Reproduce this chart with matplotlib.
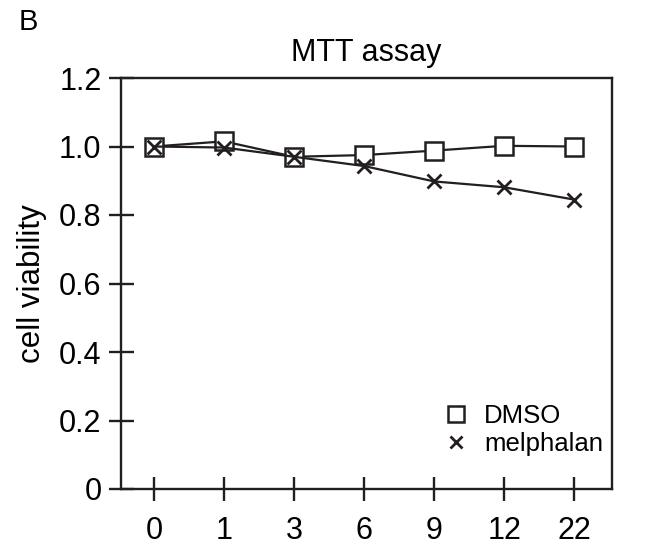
import matplotlib
matplotlib.use("Agg")
import matplotlib.pyplot as plt

categories = ["0", "1", "3", "6", "9", "12", "22"]
dmso = [1.0, 1.015, 0.97, 0.975, 0.988, 1.002, 1.0]
melphalan = [1.0, 0.997, 0.97, 0.943, 0.898, 0.881, 0.845]
yticks = [0, 0.2, 0.4, 0.6, 0.8, 1.0, 1.2]
ytick_labels = ["0", "0.2", "0.4", "0.6", "0.8", "1.0", "1.2"]

plt.rcParams['font.family'] = ['Liberation Sans', 'DejaVu Sans']

fig = plt.figure(figsize=(6.5, 5.48), dpi=100)
ax = fig.add_axes([121/650, 1 - 489/548, (612-121)/650, (489-78)/548])

x = list(range(len(categories)))
ax.plot(x, dmso, color='#231f20', lw=1.6, marker='s', markersize=13,
        markerfacecolor='white', markeredgecolor='#231f20', markeredgewidth=1.8,
        label='DMSO', zorder=3)
ax.plot(x, melphalan, color='#231f20', lw=1.6, marker='x', markersize=10,
        markeredgewidth=2.0, label='melphalan', zorder=4)

ax.set_xlim(-0.47, 6.54)
ax.set_ylim(0, 1.2)
ax.set_xticks(x)
ax.set_xticklabels(categories)
ax.set_yticks(yticks)
ax.set_yticklabels(ytick_labels)

for s in ax.spines.values():
    s.set_linewidth(1.7)
    s.set_color('#231f20')

ax.tick_params(axis='y', direction='inout', length=18, width=1.7, color='#231f20',
               labelsize=22, pad=5)
ax.tick_params(axis='x', direction='inout', length=17.5, width=1.7, color='#231f20',
               labelsize=22, pad=11)

ax.set_ylabel('cell viability', fontsize=22.5, labelpad=9)
ax.set_title('MTT assay', fontsize=22, pad=12)

leg = ax.legend(loc='center', bbox_to_anchor=(523/650, 1 - 430/548),
                bbox_transform=fig.transFigure, frameon=False, fontsize=18.5,
                handlelength=1.0, handletextpad=0.6, labelspacing=0.12, borderpad=0)
for h in leg.legend_handles:
    h.set_linestyle('None')
leg.legend_handles[0].set_markersize(12)
leg.legend_handles[0].set_markeredgewidth(1.8)
leg.legend_handles[1].set_markersize(8)

fig.text(28/650, 1 - 22/548, 'B', fontsize=21, ha='center', va='center')

fig.savefig('out.png', dpi=100)
